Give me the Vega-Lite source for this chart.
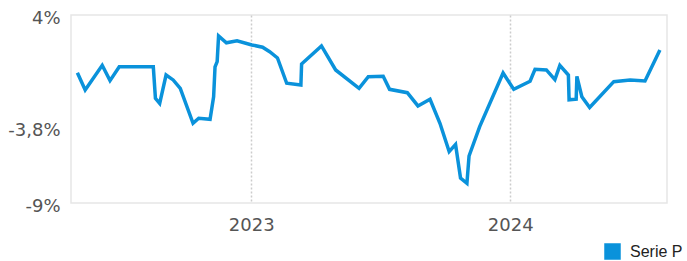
{
  "$schema": "https://vega.github.io/schema/vega-lite/v6.json",
  "width": 596,
  "height": 188,
  "autosize": "none",
  "padding": {"left": 71, "top": 15, "right": 20, "bottom": 58},
  "background": "white",
  "config": {
    "view": {"stroke": "#e6e6e6", "strokeWidth": 1.5},
    "font": "DejaVu Sans"
  },
  "data": {
    "values": [
      {"date": "2022-05-01", "v": 0.01, "s": "Serie P"},
      {"date": "2022-05-12", "v": -1.19, "s": "Serie P"},
      {"date": "2022-06-05", "v": 0.52, "s": "Serie P"},
      {"date": "2022-06-16", "v": -0.54, "s": "Serie P"},
      {"date": "2022-06-29", "v": 0.42, "s": "Serie P"},
      {"date": "2022-08-16", "v": 0.42, "s": "Serie P"},
      {"date": "2022-08-19", "v": -1.76, "s": "Serie P"},
      {"date": "2022-08-25", "v": -2.11, "s": "Serie P"},
      {"date": "2022-09-03", "v": -0.15, "s": "Serie P"},
      {"date": "2022-09-13", "v": -0.49, "s": "Serie P"},
      {"date": "2022-09-23", "v": -1.07, "s": "Serie P"},
      {"date": "2022-10-11", "v": -3.49, "s": "Serie P"},
      {"date": "2022-10-19", "v": -3.14, "s": "Serie P"},
      {"date": "2022-11-04", "v": -3.21, "s": "Serie P"},
      {"date": "2022-11-09", "v": -1.65, "s": "Serie P"},
      {"date": "2022-11-11", "v": 0.42, "s": "Serie P"},
      {"date": "2022-11-14", "v": 0.77, "s": "Serie P"},
      {"date": "2022-11-16", "v": 2.55, "s": "Serie P"},
      {"date": "2022-11-27", "v": 2.08, "s": "Serie P"},
      {"date": "2022-12-12", "v": 2.22, "s": "Serie P"},
      {"date": "2023-01-02", "v": 1.93, "s": "Serie P"},
      {"date": "2023-01-17", "v": 1.77, "s": "Serie P"},
      {"date": "2023-01-27", "v": 1.46, "s": "Serie P"},
      {"date": "2023-02-07", "v": 1.03, "s": "Serie P"},
      {"date": "2023-02-20", "v": -0.72, "s": "Serie P"},
      {"date": "2023-03-12", "v": -0.84, "s": "Serie P"},
      {"date": "2023-03-13", "v": 0.61, "s": "Serie P"},
      {"date": "2023-04-10", "v": 1.86, "s": "Serie P"},
      {"date": "2023-04-30", "v": 0.2, "s": "Serie P"},
      {"date": "2023-06-02", "v": -1.07, "s": "Serie P"},
      {"date": "2023-06-15", "v": -0.27, "s": "Serie P"},
      {"date": "2023-07-06", "v": -0.24, "s": "Serie P"},
      {"date": "2023-07-15", "v": -1.14, "s": "Serie P"},
      {"date": "2023-08-09", "v": -1.37, "s": "Serie P"},
      {"date": "2023-08-24", "v": -2.29, "s": "Serie P"},
      {"date": "2023-09-10", "v": -1.83, "s": "Serie P"},
      {"date": "2023-09-24", "v": -3.49, "s": "Serie P"},
      {"date": "2023-10-07", "v": -5.45, "s": "Serie P"},
      {"date": "2023-10-16", "v": -4.95, "s": "Serie P"},
      {"date": "2023-10-23", "v": -7.27, "s": "Serie P"},
      {"date": "2023-11-01", "v": -7.64, "s": "Serie P"},
      {"date": "2023-11-04", "v": -5.75, "s": "Serie P"},
      {"date": "2023-11-19", "v": -3.72, "s": "Serie P"},
      {"date": "2023-12-22", "v": -0.01, "s": "Serie P"},
      {"date": "2024-01-06", "v": -1.14, "s": "Serie P"},
      {"date": "2024-01-29", "v": -0.58, "s": "Serie P"},
      {"date": "2024-02-05", "v": 0.25, "s": "Serie P"},
      {"date": "2024-02-21", "v": 0.2, "s": "Serie P"},
      {"date": "2024-03-04", "v": -0.47, "s": "Serie P"},
      {"date": "2024-03-11", "v": 0.52, "s": "Serie P"},
      {"date": "2024-03-23", "v": -0.15, "s": "Serie P"},
      {"date": "2024-03-24", "v": -1.86, "s": "Serie P"},
      {"date": "2024-04-03", "v": -1.82, "s": "Serie P"},
      {"date": "2024-04-04", "v": -0.24, "s": "Serie P"},
      {"date": "2024-04-11", "v": -1.65, "s": "Serie P"},
      {"date": "2024-04-22", "v": -2.4, "s": "Serie P"},
      {"date": "2024-05-26", "v": -0.61, "s": "Serie P"},
      {"date": "2024-06-18", "v": -0.49, "s": "Serie P"},
      {"date": "2024-07-09", "v": -0.56, "s": "Serie P"},
      {"date": "2024-07-30", "v": 1.58, "s": "Serie P"}
    ]
  },
  "mark": {"type": "line", "strokeWidth": 3.5, "strokeJoin": "miter", "clip": true},
  "encoding": {
    "x": {
      "field": "date",
      "type": "temporal",
      "scale": {"type": "utc", "domain": ["2022-04-22", "2024-08-09"]},
      "axis": {
        "title": null,
        "values": ["2023-01-01", "2024-01-01"],
        "format": "%Y",
        "formatType": "utc",
        "domain": false,
        "ticks": false,
        "grid": true,
        "gridColor": "#cccccc",
        "gridDash": [2, 2],
        "gridWidth": 1.5,
        "labelFont": "DejaVu Sans",
        "labelFontSize": 18,
        "labelColor": "#555555",
        "labelPadding": 13,
        "labelFlush": false
      }
    },
    "y": {
      "field": "v",
      "type": "quantitative",
      "scale": {"domain": [-9, 4], "nice": false, "zero": false},
      "axis": {
        "title": null,
        "values": [4, -3.8, -9],
        "labelExpr": "replace(toString(datum.value), '.', ',') + '%'",
        "domain": false,
        "ticks": false,
        "grid": false,
        "labelFont": "DejaVu Sans",
        "labelFontSize": 18,
        "labelColor": "#555555",
        "labelPadding": 11,
        "labelOffset": 3,
        "labelFlush": false
      }
    },
    "color": {
      "field": "s",
      "type": "nominal",
      "scale": {"range": ["#0a92db"]},
      "legend": {
        "title": null,
        "orient": "none",
        "legendX": 533,
        "legendY": 228,
        "symbolType": "square",
        "symbolSize": 196,
        "labelFont": "Liberation Sans",
        "labelFontSize": 16,
        "labelColor": "#222222",
        "labelOffset": 9,
        "encoding": {
          "symbols": {
            "fill": {"value": "#0a92db"},
            "stroke": {"value": "#808080"},
            "strokeWidth": {"value": 2.5},
            "opacity": {"value": 1}
          }
        }
      }
    }
  }
}
